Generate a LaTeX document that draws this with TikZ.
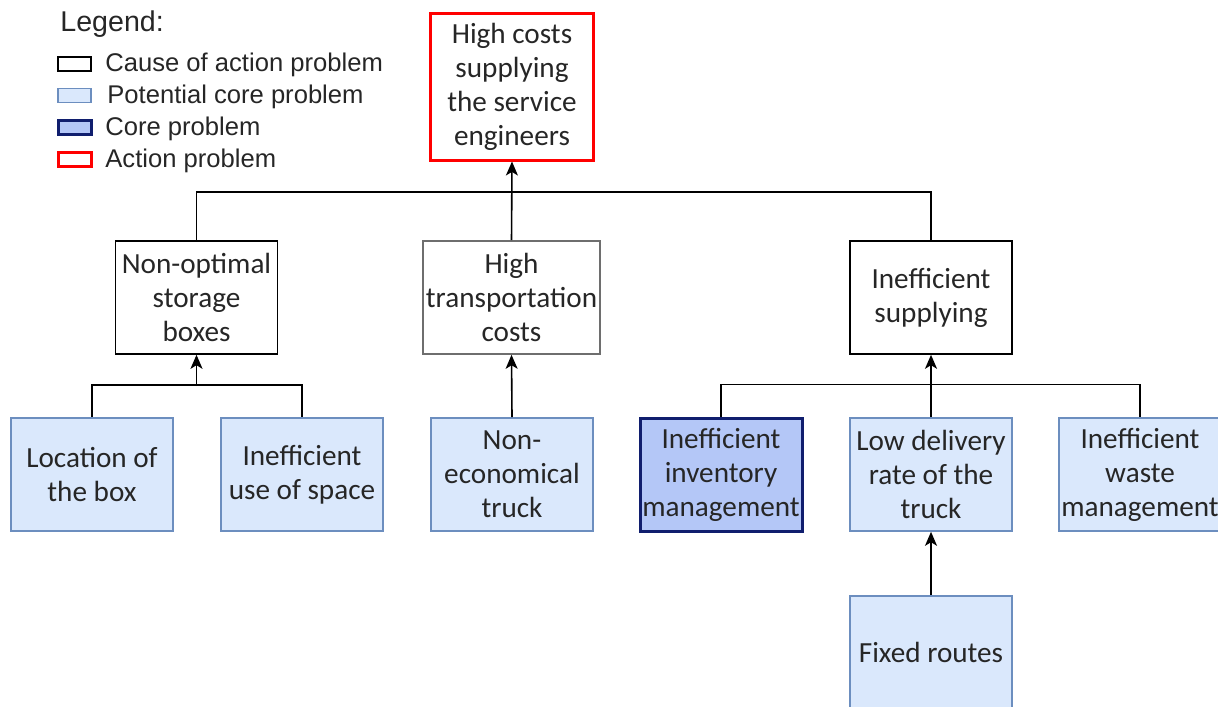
\documentclass[tikz,border=0pt]{standalone}
\usepackage{fontspec}
\setmainfont{Carlito}
\newfontfamily\legendfont{Liberation Sans}
\usetikzlibrary{positioning,arrows.meta}
\definecolor{potfill}{HTML}{DAE8FC}
\definecolor{potdraw}{HTML}{6C8EBF}
\definecolor{corefill}{HTML}{B4C7F7}
\definecolor{coredraw}{HTML}{101E6E}
\definecolor{transdraw}{HTML}{6E6E6E}
\tikzset{
  box/.style={draw, line width=0.8pt, align=center, inner sep=1pt, text=black!85,
    minimum width=81pt, minimum height=56.5pt, font=\fontsize{14.6}{17}\selectfont},
  cause/.style={box, draw=black},
  potential/.style={box, draw=potdraw, fill=potfill},
  core/.style={box, draw=coredraw, fill=corefill, line width=1.5pt},
  action/.style={box, draw=red, line width=1.5pt, minimum width=81.5pt, minimum height=73pt},
  conn/.style={line width=0.8pt},
  arrow/.style={conn, -{Stealth[length=7pt,width=6pt,inset=1.8pt]}},
  legbox/.style={draw, line width=0.8pt, minimum width=16.5pt, minimum height=7pt, inner sep=0pt},
  legtext/.style={anchor=west, inner sep=0pt, text=black!85,
    font=\legendfont\fontsize{12.8}{15}\selectfont}
}
\begin{document}
\begin{tikzpicture}[x=0.5pt,y=-0.5pt]
    \useasboundingbox (0,0) rectangle (1218,706);

    % legend
    \node[anchor=west, inner sep=0pt, text=black!85, font=\legendfont\fontsize{14.3}{16}\selectfont] (legend) at (60,24) {Legend:};
    \node[legbox] (lcause) at (74.5,64) {};
    \node[legbox, draw=potdraw, fill=potfill] (lpot) at (74.5,95.5) {};
    \node[legbox, draw=coredraw, fill=corefill, line width=1.5pt] (lcore) at (74.5,127.5) {};
    \node[legbox, draw=red, line width=1.5pt] (laction) at (74.5,159.5) {};
    \node[legtext] (tcause) at (105,65) {Cause of action problem};
    \node[legtext] (tpot) at (107,97) {Potential core problem};
    \node[legtext] (tcore) at (105,129) {Core problem};
    \node[legtext] (taction) at (105,161) {Action problem};

    % action problem
    \node[action] (top) at (512,87) {High costs\\supplying\\the service\\engineers};

    % causes
    \node[cause] (storage) at (196.5,297.5) {Non-optimal\\storage\\boxes};
    \node[cause, draw=transdraw, minimum width=88.5pt] (trans) at (511.5,297.5) {High\\transportation\\costs};
    \node[cause] (supply) at (931,297.5) {Inefficient\\supplying};

    % potential core problems
    \node[potential] (loc) at (92,474.5) {Location of\\the box};
    \node[potential] (space) at (302,474.5) {Inefficient\\use of space};
    \node[potential] (truck) at (512,474.5) {Non-\\economical\\truck};
    \node[core] (inv) at (721,474.5) {Inefficient\\inventory\\management};
    \node[potential] (deliv) at (931,474.5) {Low delivery\\rate of the\\truck};
    \node[potential] (waste) at (1140,474.5) {Inefficient\\waste\\management};
    \node[potential] (routes) at (931,652.5) {Fixed routes};

    % connectors
    \draw[conn] (storage.north) -- ++(0,-48) -| (supply.north);
    \draw[arrow] (trans.north) -- (top.south);
    \draw[conn] (loc.north) -- ++(0,-32) -| (space.north);
    \coordinate (lj) at (196.5,386);
    \draw[arrow] (lj) -- (storage.south);
    \draw[arrow] (truck.north) -- (trans.south);
    \draw[conn] (inv.north) -- ++(0,-32) -| (waste.north);
    \draw[arrow] (deliv.north) -- (supply.south);
    \draw[arrow] (routes.north) -- (deliv.south);
\end{tikzpicture}
\end{document}
